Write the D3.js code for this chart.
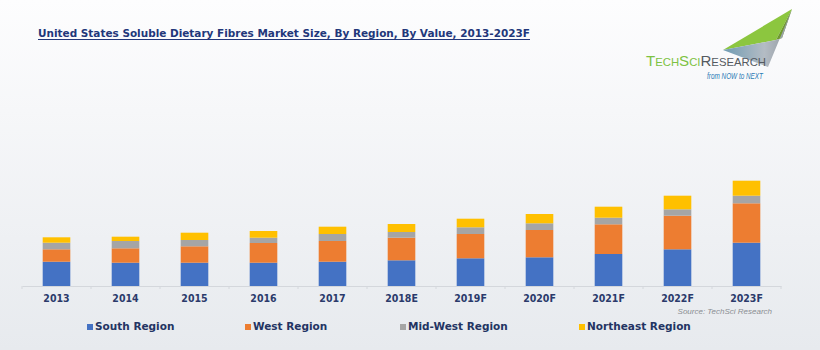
<!DOCTYPE html>
<html><head><meta charset="utf-8">
<script src="https://cdn.jsdelivr.net/npm/d3@7/dist/d3.min.js"></script>
<style>html,body{margin:0;padding:0;background:#fff;}svg{display:block;}</style>
</head><body>
<script>
const categories = ["2013","2014","2015","2016","2017","2018E","2019F","2020F","2021F","2022F","2023F"];
const south     = [24.3, 23.3, 23.3, 23.3, 24.3, 25.7, 27.7, 28.7, 32.0, 36.7, 43.3];
const west      = [12.4, 14.4, 16.4, 19.7, 20.7, 22.6, 24.3, 27.3, 29.7, 33.6, 39.4];
const midWest   = [6.6, 7.3, 6.3, 5.3, 7.0, 5.7, 6.7, 6.7, 6.6, 6.4, 7.6];
const northeast = [5.4, 4.3, 7.3, 6.7, 7.3, 8.0, 8.6, 9.3, 11.0, 13.6, 15.0];
const seriesNames = ["South Region","West Region","Mid-West Region","Northeast Region"];
const seriesColors = ["#4472c4","#ed7d31","#a5a5a5","#ffc000"];
const title = "United States Soluble Dietary Fibres Market Size, By Region, By Value, 2013-2023F";
const source = "Source: TechSci Research";

const W = 820, H = 350;
const svg = d3.select("body").append("svg").attr("width", W).attr("height", H);
const defs = svg.append("defs");
const bg = defs.append("linearGradient").attr("id","bg").attr("x1",0).attr("y1",0).attr("x2",0).attr("y2",1);
bg.append("stop").attr("offset","0%").attr("stop-color","#fdfdfe");
bg.append("stop").attr("offset","100%").attr("stop-color","#e7eaee");
svg.append("rect").attr("width",W).attr("height",H).attr("fill","url(#bg)");

// Title
const navy = "#22377a";
svg.append("text").attr("x",38).attr("y",37).attr("font-family","DejaVu Sans").attr("font-weight","bold")
  .attr("font-size",10).attr("fill",navy).attr("textLength",492).attr("lengthAdjust","spacingAndGlyphs").text(title);
svg.append("line").attr("x1",38).attr("x2",530).attr("y1",39.5).attr("y2",39.5).attr("stroke",navy).attr("stroke-width",1);

// Logo
const lg = svg.append("g");
const gg = defs.append("linearGradient").attr("id","lgray").attr("x1",0).attr("y1",0).attr("x2",1).attr("y2",0);
gg.append("stop").attr("offset","0%").attr("stop-color","#6f9bb3");
gg.append("stop").attr("offset","60%").attr("stop-color","#b4bcc4");
gg.append("stop").attr("offset","100%").attr("stop-color","#8e959c");
lg.append("polygon").attr("points","723,50 792,9 776,40").attr("fill","#8cc63f");
lg.append("polygon").attr("points","776,40 792,9 782,38").attr("fill","#6f9a2e");
lg.append("polygon").attr("points","723,50 776,40 782,38 792,9 768,67").attr("fill","url(#lgray)");
const lt = lg.append("text").attr("x",646).attr("y",66).attr("font-family","Liberation Sans").attr("textLength",120).attr("lengthAdjust","spacingAndGlyphs");
[["T",14,"#7dc242"],["ECH",10.5,"#7dc242"],["S",14,"#7dc242"],["CI",10.5,"#7dc242"],["R",14,"#555a60"],["ESEARCH",10.5,"#555a60"]]
  .forEach(([t,s,c]) => lt.append("tspan").attr("font-size",s).attr("fill",c).text(t));
lg.append("text").attr("x",707).attr("y",79).attr("font-family","Liberation Sans").attr("font-style","italic")
  .attr("font-size",8.5).attr("fill","#2a79b5").attr("textLength",56).attr("lengthAdjust","spacingAndGlyphs").text("from NOW to NEXT");

// Scales
const x = d3.scaleBand().domain(categories).range([22,781]).padding(0);
const y = d3.scaleLinear().domain([0,200]).range([286,86]);
const data = categories.map((c,i) => ({cat:c, s0:south[i], s1:west[i], s2:midWest[i], s3:northeast[i]}));
const stack = d3.stack().keys(["s0","s1","s2","s3"])(data);
const bw = x.bandwidth()*0.4;
svg.append("g").selectAll("g").data(stack).join("g").attr("fill",(d,i)=>seriesColors[i])
  .selectAll("rect").data(d=>d).join("rect")
  .attr("x",d=>x(d.data.cat)+(x.bandwidth()-bw)/2).attr("width",bw)
  .attr("y",d=>y(d[1])).attr("height",d=>y(d[0])-y(d[1]));

// Axis
const ax = svg.append("g").attr("transform","translate(0,286)")
  .call(d3.axisBottom(x).tickSize(0).tickPadding(9).tickSizeOuter(0));
ax.select(".domain").attr("stroke","#d4d7dc");
ax.selectAll("text").attr("font-family","DejaVu Sans Condensed").attr("font-weight","bold").attr("font-size",10.5).attr("fill","#2b3a6b");
const bounds = categories.map(c=>x(c)).concat([x.range()[1]]);
ax.selectAll(".bt").data(bounds).join("line").attr("class","bt")
  .attr("x1",d=>d).attr("x2",d=>d).attr("y1",0).attr("y2",3).attr("stroke","#d4d7dc");

// Source
svg.append("text").attr("x",772).attr("y",314).attr("text-anchor","end").attr("font-family","Liberation Sans")
  .attr("font-style","italic").attr("font-size",8).attr("fill","#8a8d92").text(source);

// Legend
const legX = [87,245,400,579];
const leg = svg.append("g").selectAll("g").data(seriesNames).join("g")
  .attr("transform",(d,i)=>`translate(${legX[i]},330)`);
leg.append("rect").attr("x",0).attr("y",-6).attr("width",6).attr("height",6).attr("fill",(d,i)=>seriesColors[i]);
leg.append("text").attr("x",8).attr("y",0).attr("font-family","DejaVu Sans").attr("font-weight","bold")
  .attr("font-size",10.5).attr("fill","#233463").text(d=>d);
</script>
</body></html>
